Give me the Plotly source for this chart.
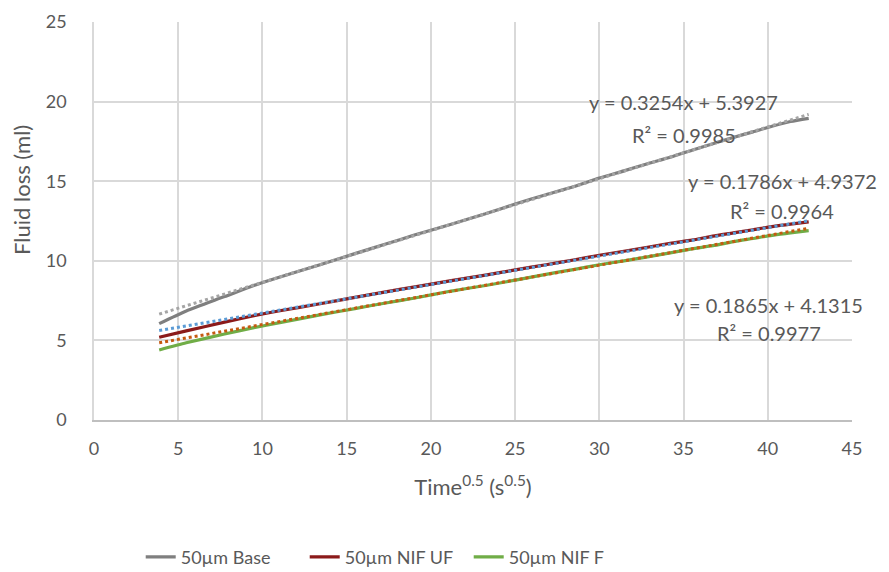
import plotly.graph_objects as go

# sqrt(time) values (s^0.5)
x_vals = [3.87, 5.48, 7.75, 9.49, 10.95, 13.42, 15.49, 17.32, 18.97, 21.21, 23.24, 25.10,
          26.83, 28.46, 30.00, 31.46, 32.86, 34.21, 35.50, 36.74, 37.95, 39.12, 40.25, 41.35, 42.43]

base_vals = [6.05, 6.85, 7.75, 8.45, 8.95, 9.75, 10.45, 11.05, 11.6, 12.3, 12.95, 13.6,
             14.15, 14.65, 15.2, 15.65, 16.1, 16.5, 16.95, 17.35, 17.75, 18.1, 18.45, 18.75, 18.95]
uf_vals = [5.2, 5.6, 6.15, 6.55, 6.85, 7.3, 7.7, 8.05, 8.35, 8.75, 9.1, 9.45,
           9.75, 10.05, 10.35, 10.6, 10.85, 11.1, 11.3, 11.55, 11.75, 11.95, 12.15, 12.3, 12.45]
f_vals = [4.4, 4.85, 5.4, 5.8, 6.1, 6.6, 7.0, 7.35, 7.65, 8.1, 8.45, 8.8,
          9.15, 9.45, 9.75, 10.0, 10.25, 10.5, 10.75, 10.95, 11.2, 11.4, 11.6, 11.75, 11.9]

series_names = ["50µm Base", "50µm NIF UF", "50µm NIF F"]

# trendline coefficients (as labelled)
slopes = [0.3254, 0.1786, 0.1865]
intercepts = [5.3927, 4.9372, 4.1315]
r2_vals = [0.9985, 0.9964, 0.9977]

line_colors = ["#7F7F7F", "#8B1A1A", "#70AD47"]
trend_colors = ["#A5A5A5", "#5B9BD5", "#C55A11"]

x_ticks = [0, 5, 10, 15, 20, 25, 30, 35, 40, 45]
y_ticks = [0, 5, 10, 15, 20, 25]

FONT = "Lato"
TXT = "#595959"

fig = go.Figure()

ys = [base_vals, uf_vals, f_vals]
for name, y, c in zip(series_names, ys, line_colors):
    fig.add_trace(go.Scatter(x=x_vals, y=y, mode="lines", name=name,
                             line=dict(color=c, width=3.2, shape="spline", smoothing=0.6)))

x0, x1 = x_vals[0], x_vals[-1]
for m, b, c in zip(slopes, intercepts, trend_colors):
    fig.add_trace(go.Scatter(x=[x0, x1], y=[m * x0 + b, m * x1 + b], mode="lines",
                             showlegend=False, hoverinfo="skip",
                             line=dict(color=c, width=3, dash="dot")))

# equation labels (paper positions)
label_pos = [(0.778, 0.800, 0.715), (0.908, 0.600, 0.525), (0.890, 0.288, 0.218)]
for m, b, r2, (px, py1, py2) in zip(slopes, intercepts, r2_vals, label_pos):
    fig.add_annotation(xref="paper", yref="paper", x=px, y=py1, showarrow=False,
                       xanchor="center", yanchor="middle",
                       text=f"y = {m:.4f}x + {b:.4f}", font=dict(family=FONT, size=20, color=TXT))
    fig.add_annotation(xref="paper", yref="paper", x=px, y=py2, showarrow=False,
                       xanchor="center", yanchor="middle",
                       text=f"R² = {r2:.4f}", font=dict(family=FONT, size=20, color=TXT))

# y-axis title
fig.add_annotation(xref="paper", yref="paper", x=-0.095, y=0.578, showarrow=False,
                   xanchor="center", yanchor="middle", textangle=-90,
                   text="Fluid loss (ml)", font=dict(family=FONT, size=22, color=TXT))

fig.update_layout(
    width=889, height=572,
    margin=dict(l=94, r=37, t=22, b=152, autoexpand=False),
    paper_bgcolor="white", plot_bgcolor="white",
    font=dict(family=FONT, size=18, color=TXT),
    legend=dict(orientation="h", x=0.435, xanchor="center", xref="container",
                y=0.026, yanchor="middle", yref="container",
                entrywidth=119, entrywidthmode="pixels",
                font=dict(family=FONT, size=18, color=TXT), tracegroupgap=0),
    showlegend=True,
)
fig.update_xaxes(range=[0, 45], tickvals=x_ticks, showgrid=True, gridcolor="#D9D9D9", gridwidth=1.5,
                 zeroline=False, showline=True, linecolor="#BFBFBF", linewidth=1.5,
                 ticks="", ticklabelstandoff=12,
                 tickfont=dict(family=FONT, size=18, color=TXT),
                 title=dict(text="Time<sup>0.5</sup> (s<sup>0.5</sup>)", standoff=21,
                            font=dict(family=FONT, size=22, color=TXT)))
fig.update_yaxes(range=[0, 25], tickvals=y_ticks, showgrid=True, gridcolor="#D9D9D9", gridwidth=1.5,
                 zeroline=False, showline=True, linecolor="#D9D9D9", linewidth=1.5,
                 ticks="", ticklabelstandoff=22,
                 tickfont=dict(family=FONT, size=18, color=TXT))

fig.write_html("out.html")
